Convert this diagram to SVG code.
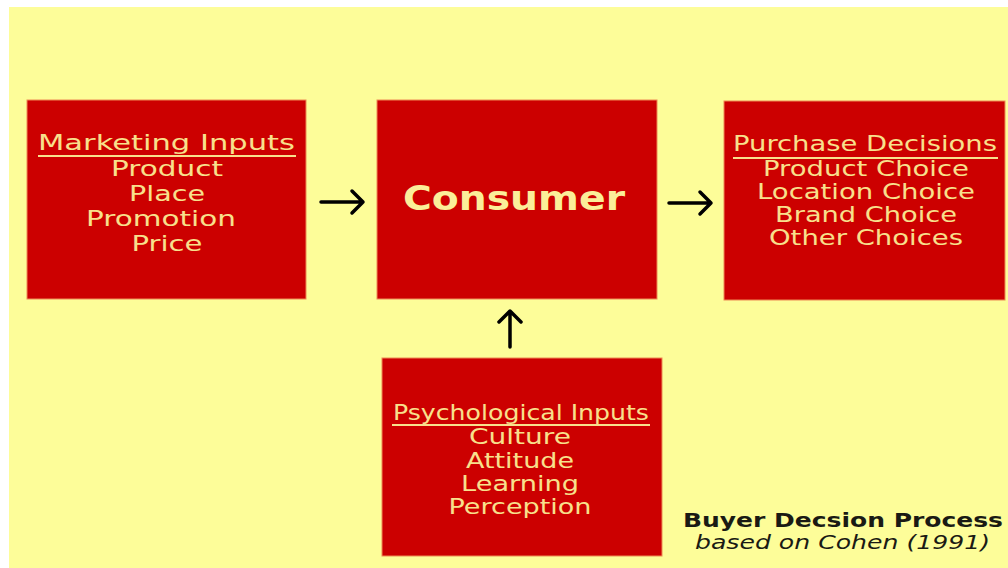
<svg xmlns="http://www.w3.org/2000/svg" width="1008" height="568" viewBox="0 0 1008 568">
<style>
.box{fill:#cc0000;stroke:#ee8a55;stroke-width:1}
.t{font-family:"DejaVu Sans","Verdana",sans-serif;font-size:22px;fill:#f8e08c;text-anchor:middle}
.big{font-family:"DejaVu Sans","Verdana",sans-serif;font-size:34px;font-weight:bold;fill:#fbee99;text-anchor:middle}
.ul{stroke:#f8e08c;stroke-width:2}
.cap{font-family:"DejaVu Sans","Verdana",sans-serif;font-size:19px;fill:#1a1a14}
.arr{stroke:#000;stroke-width:3.5;fill:none;stroke-linecap:round;stroke-linejoin:round}
</style>
<rect x="0" y="0" width="1008" height="568" fill="#ffffff"/>
<rect x="9" y="7" width="999" height="561" fill="#fdfd99"/>
<g id="marketing">
<rect class="box" x="27" y="100" width="279" height="199"/>
<text class="t" x="166.5" y="150" textLength="257" lengthAdjust="spacingAndGlyphs">Marketing Inputs</text>
<line class="ul" x1="38" y1="156" x2="296" y2="156"/>
<text class="t" x="167" y="176" textLength="112" lengthAdjust="spacingAndGlyphs">Product</text>
<text class="t" x="167" y="201" textLength="76" lengthAdjust="spacingAndGlyphs">Place</text>
<text class="t" x="161" y="226" textLength="150" lengthAdjust="spacingAndGlyphs">Promotion</text>
<text class="t" x="167" y="251" textLength="71" lengthAdjust="spacingAndGlyphs">Price</text>
</g>
<g id="consumer">
<rect class="box" x="377" y="100" width="280" height="199"/>
<text class="big" x="514" y="210" textLength="222" lengthAdjust="spacingAndGlyphs">Consumer</text>
</g>
<g id="purchase">
<rect class="box" x="724" y="101" width="281" height="199"/>
<text class="t" x="865" y="151" textLength="264" lengthAdjust="spacingAndGlyphs">Purchase Decisions</text>
<line class="ul" x1="733" y1="158" x2="998" y2="158"/>
<text class="t" x="866" y="176" textLength="206" lengthAdjust="spacingAndGlyphs">Product Choice</text>
<text class="t" x="866" y="199" textLength="218" lengthAdjust="spacingAndGlyphs">Location Choice</text>
<text class="t" x="866" y="222" textLength="182" lengthAdjust="spacingAndGlyphs">Brand Choice</text>
<text class="t" x="866" y="245" textLength="194" lengthAdjust="spacingAndGlyphs">Other Choices</text>
</g>
<g id="psychological">
<rect class="box" x="382" y="358" width="280" height="198"/>
<text class="t" x="521" y="420" textLength="256" lengthAdjust="spacingAndGlyphs">Psychological Inputs</text>
<line class="ul" x1="392" y1="425" x2="650" y2="425"/>
<text class="t" x="520" y="444" textLength="102" lengthAdjust="spacingAndGlyphs">Culture</text>
<text class="t" x="520" y="468" textLength="108" lengthAdjust="spacingAndGlyphs">Attitude</text>
<text class="t" x="520" y="491" textLength="118" lengthAdjust="spacingAndGlyphs">Learning</text>
<text class="t" x="520" y="514" textLength="143" lengthAdjust="spacingAndGlyphs">Perception</text>
</g>
<g id="connectors">
<path class="arr" d="M321 202 H363 M352 191 L363 202 L352 213"/>
<path class="arr" d="M669 203 H711 M700 192 L711 203 L700 214"/>
<path class="arr" d="M510 347 V311 M499 322 L510 311 L521 322"/>
</g>
<g id="caption">
<text class="cap" x="683" y="527" font-weight="bold" textLength="320" lengthAdjust="spacingAndGlyphs">Buyer Decsion Process</text>
<text class="cap" x="695" y="549" font-style="italic" textLength="295" lengthAdjust="spacingAndGlyphs">based on Cohen (1991)</text>
</g>
</svg>
